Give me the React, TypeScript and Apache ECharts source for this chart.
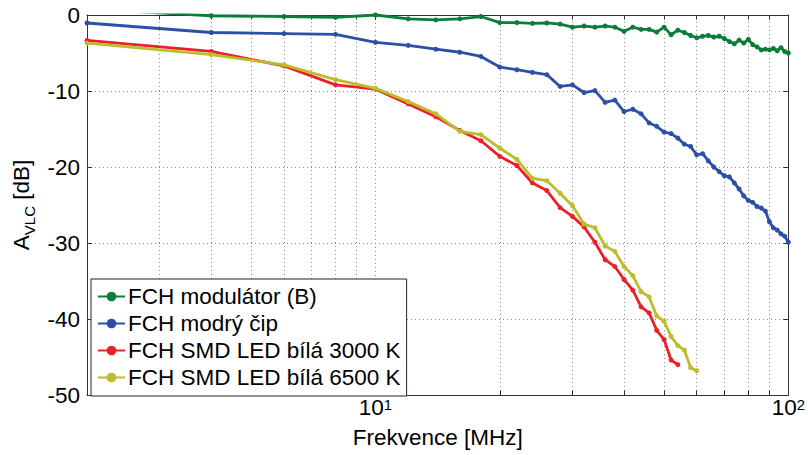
import React, { useEffect, useRef } from 'react';
import * as echarts from 'echarts';

const FONT = '"Liberation Sans", Arial, Helvetica, sans-serif';

// Frequencies in MHz (measurement points)
const frequencies = [
  2, 4, 6, 8, 10, 12, 14, 16, 18, 20,
  22, 24, 26, 28, 30, 32, 34, 36, 38, 40,
  42, 44, 46, 48, 50, 52, 54, 56, 58, 60,
  62, 64, 66, 68, 70, 72, 74, 76, 78, 80,
  82, 84, 86, 88, 90, 92, 94, 96, 98, 100,
];

const seriesNames = [
  'FCH modulátor (B)',
  'FCH modrý čip',
  'FCH SMD LED bílá 3000 K',
  'FCH SMD LED bílá 6500 K',
];

const modulatorValues = [
  0.8, -0.1, -0.2, -0.3, 0.0, -0.5, -0.65, -0.5, -0.2, -1.0,
  -1.0, -1.1, -1.05, -1.2, -1.6, -1.45, -1.6, -1.45, -1.6, -2.15,
  -1.6, -1.9, -1.9, -2.25, -1.6, -2.6, -2.0, -2.3, -2.7, -3.0,
  -2.8, -2.7, -2.9, -2.8, -3.1, -3.5, -3.8, -3.3, -3.7, -3.2,
  -3.9, -4.2, -4.6, -4.5, -4.6, -4.4, -4.7, -4.3, -4.8, -5.0,
];

const blueChipValues = [
  -1.05, -2.3, -2.45, -2.55, -3.6, -4.0, -4.5, -4.9, -5.45, -6.85,
  -7.2, -7.55, -7.85, -9.4, -9.2, -10.2, -9.95, -11.5, -11.2, -12.7,
  -12.4, -13.0, -14.2, -14.65, -15.4, -15.6, -16.2, -17.0, -17.3, -18.4,
  -18.25, -19.2, -20.0, -20.6, -21.15, -21.3, -22.1, -22.9, -23.8, -24.4,
  -24.65, -25.2, -25.4, -25.8, -27.2, -28.0, -28.3, -28.8, -29.1, -29.9,
];

const led3000Values = [
  -3.35, -4.8, -6.7, -9.2, -9.75, -11.7, -13.4, -15.2, -16.55, -18.6,
  -19.8, -22.1, -23.1, -25.35, -26.5, -27.9, -29.9, -32.2, -33.1, -34.8,
  -36.2, -38.4, -39.2, -41.5, -42.7, -45.4, -46.0,
];

const led6500Values = [
  -3.7, -5.2, -6.55, -8.5, -9.65, -11.4, -13.0, -15.3, -15.75, -17.5,
  -19.0, -21.5, -21.8, -23.45, -25.1, -27.5, -28.0, -30.4, -31.1, -33.1,
  -34.3, -36.4, -37.1, -39.6, -40.3, -42.3, -43.5, -44.1, -46.4, -46.8,
];

const seriesColors = ['#0b7d3b', '#2d4fa6', '#ec2027', '#bdbd2c'];

const xMin = 2;
const xMax = 100;
const yMin = -50;
const yMax = 0;
const yInterval = 10;
const minorXTicks = [3, 4, 5, 6, 7, 8, 9, 20, 30, 40, 50, 60, 70, 80, 90];

export default function App() {
  const ref = useRef<HTMLDivElement>(null);

  useEffect(() => {
    if (!ref.current) return;
    const chart = echarts.init(ref.current, undefined, { renderer: 'svg' });

    const allValues = [modulatorValues, blueChipValues, led3000Values, led6500Values];
    const tickLen = 0.6; // dB, short inner tick marks

    const gridMarks: any[] = minorXTicks.map((v) => ({
      xAxis: v,
      lineStyle: { color: '#8a8a8a', type: [1, 3], width: 1 },
    }));
    minorXTicks.forEach((v) => {
      gridMarks.push([
        { coord: [v, yMin], lineStyle: { color: '#333', type: 'solid', width: 1 } },
        { coord: [v, yMin + tickLen] },
      ]);
      gridMarks.push([
        { coord: [v, yMax], lineStyle: { color: '#333', type: 'solid', width: 1 } },
        { coord: [v, yMax - tickLen] },
      ]);
    });

    const series: any[] = allValues.map((vals, i) => ({
      name: seriesNames[i],
      type: 'line',
      data: vals.map((v, j) => [frequencies[j], v]),
      symbol: 'circle',
      symbolSize: 5,
      showSymbol: true,
      lineStyle: { width: 2.8, color: seriesColors[i] },
      itemStyle: { color: seriesColors[i] },
      z: 3 + i,
      clip: true,
      ...(i === 0
        ? {
            markLine: {
              silent: true,
              symbol: ['none', 'none'],
              label: { show: false },
              animation: false,
              z: 1,
              data: gridMarks,
            },
          }
        : {}),
    }));

    const xLabelFormatter = (v: number) => {
      const e = Math.round(Math.log10(v));
      return Math.abs(Math.pow(10, e) - v) < 1e-9 ? `{b|10}{s|${e}}` : '';
    };

    chart.setOption({
      animation: false,
      backgroundColor: '#ffffff',
      textStyle: { fontFamily: FONT },
      grid: { left: 87, right: 18, top: 15, bottom: 60, containLabel: false },
      legend: {
        orient: 'vertical',
        left: 91,
        top: 279,
        padding: [6, 6, 7, 6],
        itemGap: 4,
        itemWidth: 27,
        itemHeight: 12,
        borderColor: '#222',
        borderWidth: 1,
        backgroundColor: '#ffffff',
        textStyle: { fontSize: 22.5, lineHeight: 22, color: '#000', fontFamily: FONT, padding: [0, 0, 0, -2] },
        data: seriesNames,
      },
      xAxis: [
        {
          type: 'log',
          logBase: 10,
          min: xMin,
          max: xMax,
          name: 'Frekvence [MHz]',
          nameLocation: 'middle',
          nameGap: 31,
          nameTextStyle: { fontSize: 22.5, color: '#000', fontFamily: FONT },
          axisLine: { show: true, onZero: false, lineStyle: { color: '#333', width: 1 } },
          axisTick: { show: true, inside: true, length: 5, lineStyle: { color: '#333' } },
          minorTick: { show: false },
          splitLine: { show: true, lineStyle: { color: '#8a8a8a', type: [1, 3], width: 1 } },
          axisLabel: {
            formatter: xLabelFormatter,
            margin: 2,
            showMinLabel: false,
            rich: {
              b: { fontSize: 22.5, lineHeight: 22, verticalAlign: 'bottom', padding: [6, 0, 0, 0], color: '#000', fontFamily: FONT },
              s: { fontSize: 15, lineHeight: 15, verticalAlign: 'top', color: '#000', fontFamily: FONT },
            },
          },
        },
        {
          type: 'log',
          logBase: 10,
          min: xMin,
          max: xMax,
          position: 'top',
          axisLine: { show: true, onZero: false, lineStyle: { color: '#333', width: 1 } },
          axisTick: { show: true, inside: true, length: 5, lineStyle: { color: '#333' } },
          axisLabel: { show: false },
          splitLine: { show: false },
        },
      ],
      yAxis: [
        {
          type: 'value',
          min: yMin,
          max: yMax,
          interval: yInterval,
          name: '{a|A}{b|VLC}{a| [dB]}',
          nameLocation: 'middle',
          nameRotate: 90,
          nameGap: 50,
          nameTextStyle: {
            rich: {
              a: { fontSize: 22.5, lineHeight: 25, verticalAlign: 'middle', color: '#000', fontFamily: FONT },
              b: { fontSize: 15, lineHeight: 15, verticalAlign: 'bottom', padding: [0, 0, -3, 0], color: '#000', fontFamily: FONT },
            },
          },
          axisLine: { show: true, onZero: false, lineStyle: { color: '#333', width: 1 } },
          axisTick: { show: true, inside: true, length: 5, lineStyle: { color: '#333' } },
          splitLine: { show: true, lineStyle: { color: '#8a8a8a', type: [1, 3], width: 1 } },
          axisLabel: { fontSize: 22.5, color: '#000', margin: 7, fontFamily: FONT },
        },
        {
          type: 'value',
          min: yMin,
          max: yMax,
          interval: yInterval,
          position: 'right',
          axisLine: { show: true, onZero: false, lineStyle: { color: '#333', width: 1 } },
          axisTick: { show: true, inside: true, length: 5, lineStyle: { color: '#333' } },
          splitLine: { show: false },
          axisLabel: { show: false },
        },
      ],
      series,
    });

    return () => {
      chart.dispose();
    };
  }, []);

  return (
    <div
      ref={ref}
      style={{ position: 'fixed', left: 0, top: 0, width: 808, height: 455, background: '#fff' }}
    />
  );
}
